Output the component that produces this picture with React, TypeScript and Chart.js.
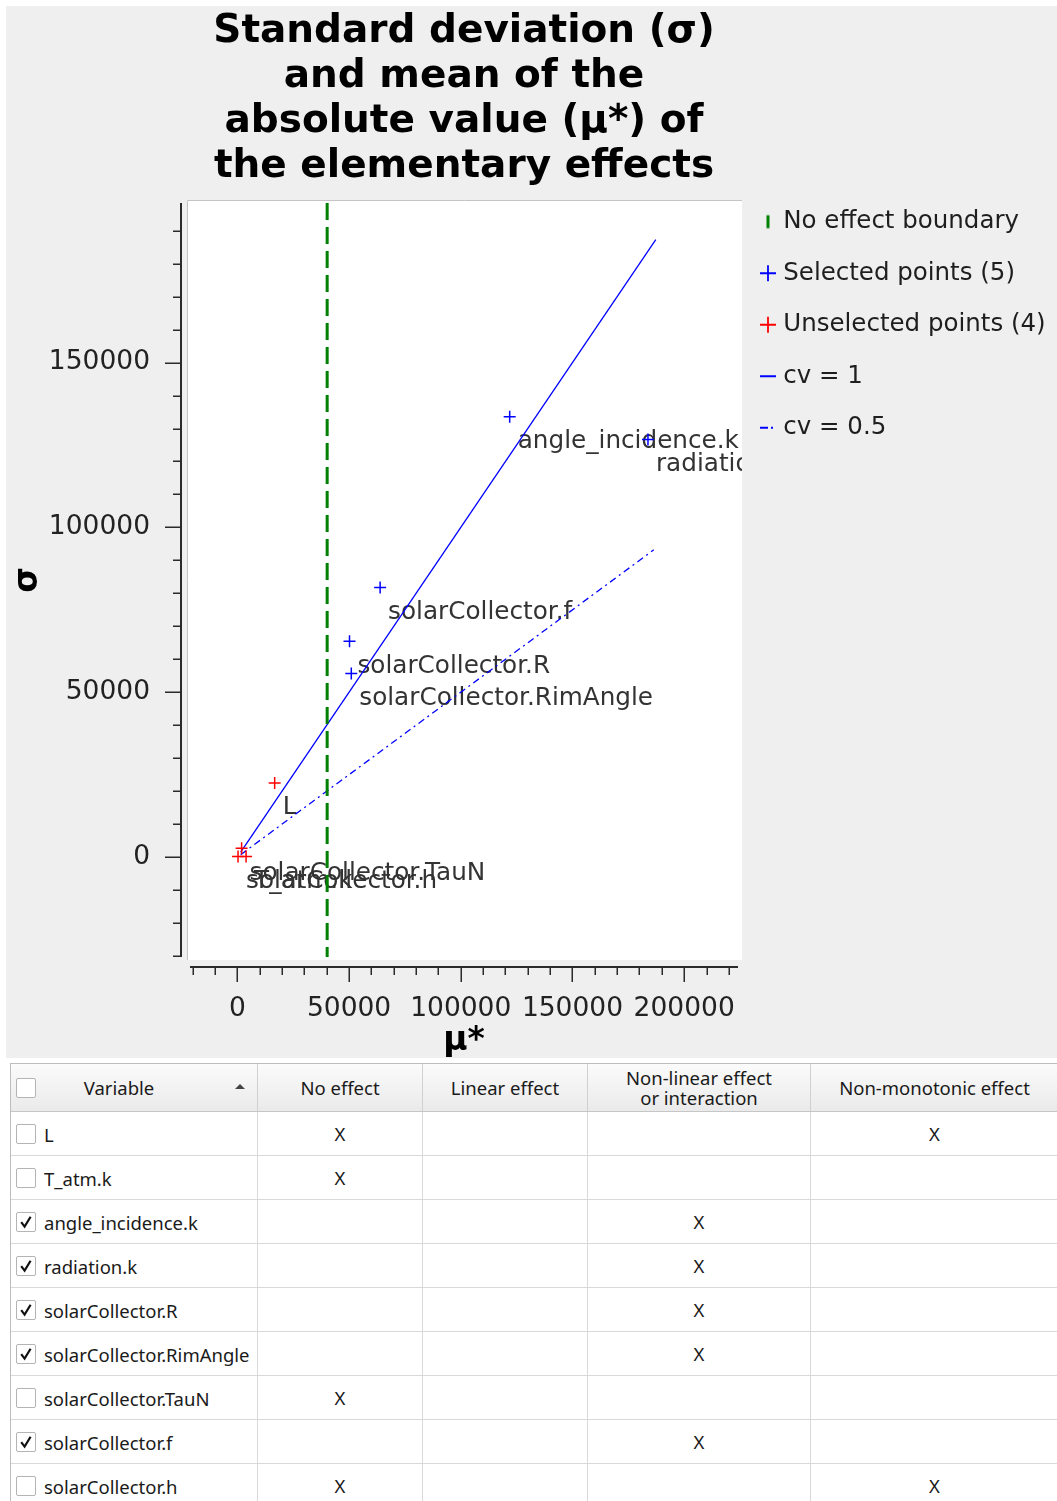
import React, { useEffect, useRef } from "react";
import { Chart, registerables } from "chart.js";

Chart.register(...registerables);

// ---------------- data ----------------
const titleLines = [
  "Standard deviation (σ)",
  "and mean of the",
  "absolute value (μ*) of",
  "the elementary effects",
];

const selectedNames = [
  "angle_incidence.k",
  "radiation.k",
  "solarCollector.f",
  "solarCollector.R",
  "solarCollector.RimAngle",
];
const selectedMu = [121900, 183800, 63900, 50200, 51000];
const selectedSigma = [133600, 126700, 81800, 65500, 55700];

const unselectedNames = ["L", "solarCollector.TauN", "solarCollector.h", "T_atm.k"];
const unselectedMu = [16700, 1900, 300, 3900];
const unselectedSigma = [22500, 2700, 200, 200];

const boundaryMu = [40200, 40200];
const boundarySigma = [198400, -30300];

const cv1Mu = [1500, 187300];
const cv1Sigma = [1500, 187300];
const cv05Mu = [1500, 186400];
const cv05Sigma = [750, 93200];

const xRange = [-21200, 224100];
const yRange = [-30300, 198400];
const xTickValues = [0, 50000, 100000, 150000, 200000];
const yTickValues = [0, 50000, 100000, 150000];
const xMinorTicks = [-20000, -10000, 10000, 20000, 30000, 40000, 60000, 70000, 80000, 90000, 110000, 120000, 130000, 140000, 160000, 170000, 180000, 190000, 210000, 220000];
const yMinorTicks = [-30000, -20000, -10000, 10000, 20000, 30000, 40000, 60000, 70000, 80000, 90000, 110000, 120000, 130000, 140000, 160000, 170000, 180000, 190000];

const legendTexts = [
  "No effect boundary",
  `Selected points (${selectedNames.length})`,
  `Unselected points (${unselectedNames.length})`,
  "cv = 1",
  "cv = 0.5",
];

const tableHeaders = ["Variable", "No effect", "Linear effect", "Non-linear effect\nor interaction", "Non-monotonic effect"];
const tableVariables = ["L", "T_atm.k", "angle_incidence.k", "radiation.k", "solarCollector.R", "solarCollector.RimAngle", "solarCollector.TauN", "solarCollector.f", "solarCollector.h"];
const tableChecked = [false, false, true, true, true, true, false, true, false];
const tableNoEffect = [true, true, false, false, false, false, true, false, true];
const tableLinear = [false, false, false, false, false, false, false, false, false];
const tableNonLinear = [false, false, true, true, true, true, false, true, false];
const tableNonMonotonic = [true, false, false, false, false, false, false, false, true];

// ---------------- layout / style ----------------
const FONT = '"DejaVu Sans", sans-serif';
const CANVAS_W = 1051;
const CANVAS_H = 1052;
const CHART_LEFT = 184;
const CHART_RIGHT = 732;
const X_AXIS_H = 101;
const LEGEND_PAD = 27;
const LEGEND_BOX = 6;
const LEGEND_FONT = 24.5;
const LEGEND_EXTRA = 10; // extra width Chart.js adds to a side legend
const LEGEND_SHIFT = -20.5;
const POINT_LABEL_FONT = 24.7;
const TICK_FONT = 26.5;
const BG = "#efefef";
const BLUE = "#0000ff";
const RED = "#ff0000";
const GREEN = "#008000";

function makeSymbol(kind: string): HTMLCanvasElement {
  const c = document.createElement("canvas");
  c.width = 18;
  c.height = 18;
  const g = c.getContext("2d")!;
  if (kind === "boundary") {
    g.fillStyle = GREEN;
    g.fillRect(7.5, 2.5, 3, 13);
  } else if (kind === "plusBlue" || kind === "plusRed") {
    g.strokeStyle = kind === "plusBlue" ? BLUE : RED;
    g.lineWidth = 1.8;
    g.beginPath();
    g.moveTo(1, 9);
    g.lineTo(17, 9);
    g.moveTo(9, 1);
    g.lineTo(9, 17);
    g.stroke();
  } else if (kind === "cv1") {
    g.strokeStyle = BLUE;
    g.lineWidth = 2;
    g.beginPath();
    g.moveTo(1, 9);
    g.lineTo(17, 9);
    g.stroke();
  } else {
    g.strokeStyle = BLUE;
    g.lineWidth = 2;
    g.beginPath();
    g.moveTo(1, 9);
    g.lineTo(9, 9);
    g.stroke();
    g.fillStyle = BLUE;
    g.fillRect(12, 8, 2, 2);
  }
  return c;
}

const bgPlugin = {
  id: "bgPlugin",
  beforeDraw(chart: any) {
    const { ctx, chartArea: ca, width, height } = chart;
    ctx.save();
    ctx.fillStyle = BG;
    ctx.fillRect(0, 0, width, height);
    const l = ca.left - 3, t = ca.top - 3, r = ca.right + 4, b = ca.bottom + 3;
    ctx.fillStyle = "#ffffff";
    ctx.fillRect(l, t, r - l, b - t);
    ctx.strokeStyle = "#c4c4c4";
    ctx.lineWidth = 1;
    ctx.beginPath();
    ctx.moveTo(l + 0.5, b);
    ctx.lineTo(l + 0.5, t + 0.5);
    ctx.lineTo(r, t + 0.5);
    ctx.stroke();
    ctx.restore();
  },
};

const labelsByDataset: Record<number, string[]> = { 1: selectedNames, 2: unselectedNames };

const labelPlugin = {
  id: "pointLabels",
  beforeDatasetsDraw(chart: any) {
    const { ctx, chartArea: ca } = chart;
    ctx.save();
    ctx.beginPath();
    ctx.rect(ca.left - 3, ca.top - 3, ca.right - ca.left + 7, ca.bottom - ca.top + 6);
    ctx.clip();
    ctx.font = `${POINT_LABEL_FONT}px ${FONT}`;
    ctx.fillStyle = "#333333";
    ctx.textBaseline = "middle";
    ctx.textAlign = "left";
    Object.keys(labelsByDataset).forEach((k) => {
      const di = Number(k);
      const names = labelsByDataset[di];
      const meta = chart.getDatasetMeta(di);
      meta.data.forEach((el: any, i: number) => {
        ctx.fillText(names[i], el.x + 8, el.y + 25);
      });
    });
    ctx.restore();
  },
};

// legend needs more width than Chart.js' default cap for side boxes
const legendWidthPlugin = {
  id: "legendWidth",
  beforeLayout(chart: any) {
    const lg = chart.legend;
    if (lg && !lg.__wide) {
      const orig = lg.update;
      lg.update = function (maxWidth: number, maxHeight: number, margins: any) {
        return orig.call(this, Math.max(maxWidth, 420), maxHeight, margins);
      };
      lg.__wide = true;
    }
  },
  afterLayout(chart: any) {
    const lg = chart.legend;
    if (lg) {
      lg.top += LEGEND_SHIFT;
      lg.bottom += LEGEND_SHIFT;
    }
  },
};

const axesPlugin = {
  id: "customAxes",
  afterDraw(chart: any) {
    const { ctx, chartArea: ca, scales } = chart;
    const x = scales.x, y = scales.y;
    ctx.save();
    ctx.strokeStyle = "#2a2a2a";
    // y axis
    const ax = ca.left - 9;
    ctx.lineWidth = 2;
    ctx.beginPath();
    ctx.moveTo(ax, y.getPixelForValue(yRange[1]));
    ctx.lineTo(ax, y.getPixelForValue(yRange[0]));
    ctx.stroke();
    ctx.lineWidth = 1.5;
    ctx.beginPath();
    yTickValues.forEach((v) => {
      const p = Math.round(y.getPixelForValue(v)) + 0.25;
      ctx.moveTo(ax - 16, p);
      ctx.lineTo(ax, p);
    });
    yMinorTicks.forEach((v) => {
      const p = Math.round(y.getPixelForValue(v)) + 0.25;
      ctx.moveTo(ax - 8, p);
      ctx.lineTo(ax, p);
    });
    ctx.stroke();
    // x axis
    const ay = ca.bottom + 10;
    ctx.lineWidth = 2;
    ctx.beginPath();
    ctx.moveTo(x.getPixelForValue(xRange[0]), ay);
    ctx.lineTo(x.getPixelForValue(xRange[1]), ay);
    ctx.stroke();
    ctx.lineWidth = 1.5;
    ctx.beginPath();
    xTickValues.forEach((v) => {
      const p = Math.round(x.getPixelForValue(v)) + 0.25;
      ctx.moveTo(p, ay);
      ctx.lineTo(p, ay + 15);
    });
    xMinorTicks.forEach((v) => {
      const p = Math.round(x.getPixelForValue(v)) + 0.25;
      ctx.moveTo(p, ay);
      ctx.lineTo(p, ay + 8);
    });
    ctx.stroke();
    ctx.restore();
  },
};

function ChartCanvas() {
  const ref = useRef<HTMLCanvasElement | null>(null);
  useEffect(() => {
    const canvas = ref.current!;
    const mctx = document.createElement("canvas").getContext("2d")!;
    mctx.font = `${LEGEND_FONT}px ${FONT}`;
    const widest = Math.max(...legendTexts.map((t) => mctx.measureText(t).width));
    const legendW = LEGEND_PAD + LEGEND_BOX + LEGEND_FONT / 2 + widest + LEGEND_EXTRA;
    const padRight = CANVAS_W - CHART_RIGHT - legendW;

    const symbols = [makeSymbol("boundary"), makeSymbol("plusBlue"), makeSymbol("plusRed"), makeSymbol("cv1"), makeSymbol("cv05")];

    const tickFont = { family: FONT, size: TICK_FONT };
    const chart = new Chart(canvas, {
      type: "scatter",
      data: {
        datasets: [
          {
            label: legendTexts[0],
            data: boundaryMu.map((m, i) => ({ x: m, y: boundarySigma[i] })),
            showLine: true,
            borderColor: GREEN,
            borderWidth: 3,
            borderDash: [17, 7],
            pointRadius: 0,
            pointHoverRadius: 0,
          },
          {
            label: legendTexts[1],
            data: selectedMu.map((m, i) => ({ x: m, y: selectedSigma[i] })),
            pointStyle: "cross",
            pointRadius: 6,
            pointBorderWidth: 1.5,
            borderColor: BLUE,
            backgroundColor: BLUE,
            showLine: false,
          },
          {
            label: legendTexts[2],
            data: unselectedMu.map((m, i) => ({ x: m, y: unselectedSigma[i] })),
            pointStyle: "cross",
            pointRadius: 6,
            pointBorderWidth: 1.5,
            borderColor: RED,
            backgroundColor: RED,
            showLine: false,
          },
          {
            label: legendTexts[3],
            data: cv1Mu.map((m, i) => ({ x: m, y: cv1Sigma[i] })),
            showLine: true,
            borderColor: BLUE,
            borderWidth: 1.3,
            pointRadius: 0,
            pointHoverRadius: 0,
          },
          {
            label: legendTexts[4],
            data: cv05Mu.map((m, i) => ({ x: m, y: cv05Sigma[i] })),
            showLine: true,
            borderColor: BLUE,
            borderWidth: 1.3,
            borderDash: [7, 4, 2, 4],
            pointRadius: 0,
            pointHoverRadius: 0,
          },
        ],
      },
      options: {
        responsive: false,
        maintainAspectRatio: false,
        animation: false,
        events: [],
        layout: { padding: { left: 0, top: 0, right: padRight, bottom: 0 } },
        scales: {
          x: {
            type: "linear",
            position: "bottom",
            min: xRange[0],
            max: xRange[1],
            grid: { display: false, drawTicks: false },
            border: { display: false },
            afterBuildTicks: (s: any) => {
              s.ticks = xTickValues.map((v) => ({ value: v }));
            },
            afterFit: (s: any) => {
              s.height = X_AXIS_H;
            },
            ticks: {
              padding: 36,
              font: tickFont,
              color: "#222222",
              maxRotation: 0,
              minRotation: 0,
              autoSkip: false,
              callback: (v: any) => String(v),
            },
            title: {
              display: true,
              text: "μ*",
              color: "#000000",
              font: { family: FONT, size: 33, weight: "bold", lineHeight: 1 },
              padding: { top: 0, bottom: 0 },
            },
          },
          y: {
            type: "linear",
            position: "left",
            min: yRange[0],
            max: yRange[1],
            grid: { display: false, drawTicks: false },
            border: { display: false },
            afterBuildTicks: (s: any) => {
              s.ticks = yTickValues.map((v) => ({ value: v }));
            },
            afterFit: (s: any) => {
              s.width = CHART_LEFT;
            },
            ticks: {
              padding: 40,
              font: tickFont,
              color: "#222222",
              autoSkip: false,
              callback: (v: any) => String(v),
            },
            title: {
              display: true,
              text: "σ",
              color: "#000000",
              font: { family: FONT, size: 33, weight: "bold", lineHeight: 1 },
              padding: { top: 5.5, bottom: 0 },
            },
          },
        },
        plugins: {
          title: {
            display: true,
            text: titleLines,
            fullSize: false,
            color: "#000000",
            font: { family: FONT, size: 39, weight: "bold", lineHeight: "45px" },
            padding: { top: 3, bottom: 14 },
          },
          legend: {
            display: true,
            position: "right",
            align: "start",
            fullSize: false,
            labels: {
              usePointStyle: true,
              boxWidth: LEGEND_BOX,
              padding: LEGEND_PAD,
              color: "#1e1e1e",
              font: { family: FONT, size: LEGEND_FONT },
              generateLabels: () =>
                legendTexts.map((t, i) => ({
                  text: t,
                  pointStyle: symbols[i],
                  fillStyle: "transparent",
                  strokeStyle: "transparent",
                  lineWidth: 0,
                  hidden: false,
                  datasetIndex: i,
                  fontColor: "#1e1e1e",
                })),
            },
          },
          tooltip: { enabled: false },
        },
      } as any,
      plugins: [legendWidthPlugin, bgPlugin, labelPlugin, axesPlugin],
    });
    return () => chart.destroy();
  }, []);
  return <canvas ref={ref} width={CANVAS_W} height={CANVAS_H} style={{ display: "block", width: CANVAS_W, height: CANVAS_H }} />;
}

// table layout (page x boundaries)
const colBounds = [10, 257, 422, 587, 810, 1058];

function CheckBox({ checked }: { checked: boolean }) {
  return (
    <div
      style={{
        position: "absolute",
        left: 5,
        top: "50%",
        marginTop: -10,
        width: 18,
        height: 18,
        border: "1px solid #b4b4b4",
        borderRadius: 2,
        background: "#ffffff",
        boxSizing: "content-box",
      }}
    >
      {checked ? (
        <svg width={18} height={18} viewBox="0 0 18 18" style={{ position: "absolute", left: 0, top: 0 }}>
          <path d="M4.2 9.2 L7.6 13.6 L13.6 3.8" stroke="#111111" strokeWidth={2.2} fill="none" strokeLinejoin="miter" />
        </svg>
      ) : null}
    </div>
  );
}

function DataTable() {
  const originX = colBounds[0] + 1;
  const headerH = 47;
  const rowH = 43;
  const cols = colBounds.slice(0, 5).map((b, i) => ({ left: b + 1 - originX, width: colBounds[i + 1] - b - 1 }));
  const marks = [tableNoEffect, tableLinear, tableNonLinear, tableNonMonotonic];
  return (
    <div
      style={{
        position: "absolute",
        left: colBounds[0],
        top: 1063,
        width: 1060,
        height: 460,
        borderLeft: "1px solid #bdbdbd",
        borderTop: "1px solid #bdbdbd",
        background: "#ffffff",
        fontFamily: '"Noto Sans", sans-serif',
        fontSize: 18.5,
        color: "#1a1a1a",
        boxSizing: "border-box",
      }}
    >
      <div
        style={{
          position: "absolute",
          left: 0,
          top: 0,
          width: 1060,
          height: headerH,
          background: "linear-gradient(#fbfbfb, #eaeaea)",
          borderBottom: "1px solid #c6c6c6",
        }}
      >
        {tableHeaders.map((h, i) => (
          <div
            key={i}
            style={{
              position: "absolute",
              left: cols[i].left,
              top: 0,
              width: cols[i].width,
              height: headerH,
              borderRight: "1px solid #d0d0d0",
              display: "flex",
              alignItems: "center",
              justifyContent: "center",
              textAlign: "center",
              whiteSpace: "pre",
              lineHeight: "20px",
            }}
          >
            {i === 0 ? (
              <>
                <CheckBox checked={false} />
                <span style={{ position: "absolute", left: 108, top: "50%", transform: "translate(-50%, -50%)" }}>{h}</span>
                <span
                  style={{
                    position: "absolute",
                    left: 224,
                    top: 20,
                    width: 0,
                    height: 0,
                    borderLeft: "5px solid transparent",
                    borderRight: "5px solid transparent",
                    borderBottom: "5px solid #444444",
                  }}
                />
              </>
            ) : (
              h
            )}
          </div>
        ))}
      </div>
      {tableVariables.map((name, r) => (
        <div
          key={name}
          style={{
            position: "absolute",
            left: 0,
            top: headerH + 1 + r * (rowH + 1),
            width: 1060,
            height: rowH,
            borderBottom: "1px solid #d9d9d9",
          }}
        >
          <div
            style={{
              position: "absolute",
              left: cols[0].left,
              top: 0,
              width: cols[0].width,
              height: rowH,
              borderRight: "1px solid #d9d9d9",
            }}
          >
            <CheckBox checked={tableChecked[r]} />
            <span style={{ position: "absolute", left: 33, top: "50%", transform: "translateY(-50%)", whiteSpace: "nowrap" }}>{name}</span>
          </div>
          {marks.map((m, c) => (
            <div
              key={c}
              style={{
                position: "absolute",
                left: cols[c + 1].left,
                top: 0,
                width: cols[c + 1].width,
                height: rowH,
                borderRight: "1px solid #d9d9d9",
                display: "flex",
                alignItems: "center",
                justifyContent: "center",
              }}
            >
              {m[r] ? "X" : ""}
            </div>
          ))}
        </div>
      ))}
    </div>
  );
}

export default function App() {
  return (
    <div style={{ position: "fixed", left: 0, top: 0, width: 1057, height: 1501, overflow: "hidden", background: "#ffffff" }}>
      <div style={{ position: "absolute", left: 6, top: 6, width: CANVAS_W, height: CANVAS_H }}>
        <ChartCanvas />
      </div>
      <DataTable />
    </div>
  );
}
